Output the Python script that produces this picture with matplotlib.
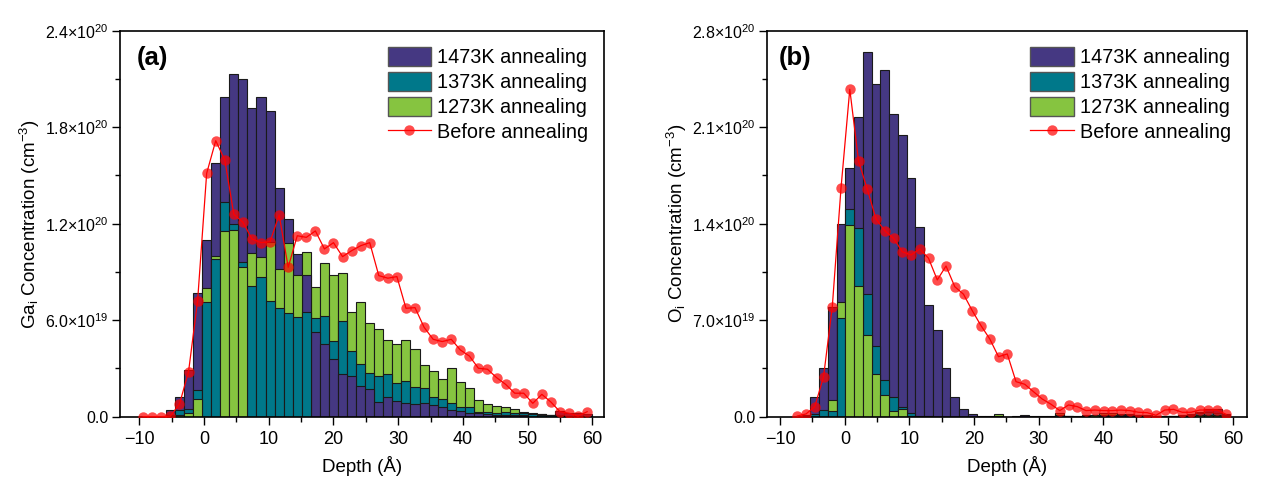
import numpy as np
import matplotlib
matplotlib.use("Agg")
import matplotlib.pyplot as plt
from matplotlib.patches import Patch
from matplotlib.lines import Line2D
from matplotlib.ticker import FuncFormatter, MultipleLocator

plt.rcParams['font.family'] = ['Liberation Sans', 'DejaVu Sans']
plt.rcParams['mathtext.fontset'] = 'custom'
plt.rcParams['mathtext.rm'] = 'Liberation Sans'
plt.rcParams['mathtext.it'] = 'Liberation Sans:italic'
plt.rcParams['mathtext.bf'] = 'Liberation Sans:bold'

# values are in units of 1e20 cm^-3
SCALE = 1e20

labels = ["1473K annealing", "1373K annealing", "1273K annealing", "Before annealing"]

# ---- panel (a): Ga interstitials ----
depth_a = np.round(-9.4 + 1.4 * np.arange(50), 2)
ga_1473 = [0, 0, 0, 0.04, 0.12, 0.29, 0.77, 1.10, 1.58, 1.99,
           2.13, 2.10, 1.92, 1.99, 1.90, 1.42, 1.23, 1.01, 0.88, 0.525,
           0.45, 0.36, 0.265, 0.25, 0.19, 0.17, 0.09, 0.12, 0.10, 0.087,
           0.077, 0.083, 0.073, 0.058, 0.041, 0.037, 0.025, 0.025, 0.016, 0.012,
           0.008, 0.008, 0.01, 0.014, 0.016, 0.012, 0.035, 0.025, 0.02, 0.016]
ga_1373 = [0, 0, 0, 0.01, 0.04, 0.045, 0.166, 0.71, 0.98, 1.337,
           1.20, 0.964, 0.81, 0.867, 0.721, 0.674, 0.647, 0.622, 0.653, 0.612,
           0.626, 0.471, 0.595, 0.41, 0.328, 0.27, 0.253, 0.265, 0.208, 0.224,
           0.187, 0.177, 0.124, 0.108, 0.087, 0.062, 0.062, 0.031, 0.027, 0.021,
           0.027, 0.021, 0.021, 0.014, 0.01, 0.008, 0.006, 0.005, 0.004, 0.004]
ga_1273 = [0, 0, 0, 0, 0.01, 0.02, 0.108, 0.802, 1.00, 1.155,
           1.16, 0.932, 1.02, 0.995, 1.088, 0.917, 1.078, 0.881, 1.026, 0.805,
           0.958, 0.881, 0.891, 0.653, 0.715, 0.585, 0.543, 0.477, 0.45, 0.477,
           0.419, 0.321, 0.286, 0.233, 0.305, 0.214, 0.18, 0.104, 0.077, 0.068,
           0.058, 0.046, 0.027, 0.021, 0.016, 0.012, 0.008, 0.006, 0.005, 0.004]
ga_before = [0, 0, 0, 0.004, 0.079, 0.28, 0.721, 1.513, 1.716, 1.596,
             1.258, 1.209, 1.105, 1.082, 1.088, 1.254, 0.929, 1.125, 1.115, 1.155,
             1.043, 1.082, 0.995, 1.032, 1.063, 1.082, 0.877, 0.861, 0.871, 0.674,
             0.678, 0.556, 0.481, 0.467, 0.481, 0.415, 0.377, 0.301, 0.295, 0.243,
             0.201, 0.146, 0.146, 0.083, 0.139, 0.091, 0.031, 0.021, 0.004, 0.031]

# ---- panel (b): O interstitials ----
depth_b = np.round(-7.35 + 1.353 * np.arange(50), 3)
o_1473 = [0, 0.01, 0.145, 0.351, 0.798, 1.398, 1.802, 2.176, 2.645, 2.413,
          2.515, 2.196, 2.043, 1.729, 1.378, 0.81, 0.629, 0.353, 0.145, 0.056,
          0.017, 0.004, 0.002, 0.002, 0.0, 0.003, 0.01, 0.005, 0.007, 0.007,
          0.01, 0.005, 0.004, 0.006, 0.01, 0.012, 0.015, 0.01, 0.01, 0.008,
          0.006, 0.005, 0.006, 0.008, 0.01, 0.02, 0.035, 0.058, 0.058, 0.02]
o_1373 = [0, 0, 0.02, 0.045, 0.04, 0.714, 1.507, 1.367, 0.888, 0.513,
          0.266, 0.145, 0.073, 0.024, 0.005, 0.003, 0, 0, 0, 0,
          0, 0, 0, 0, 0, 0, 0, 0, 0, 0,
          0.01, 0.003, 0, 0.01, 0.015, 0.015, 0.015, 0.015, 0.012, 0.01,
          0.008, 0.005, 0.005, 0.005, 0.005, 0.01, 0.03, 0.035, 0.03, 0.01]
o_1273 = [0, 0, 0, 0, 0.12, 0.834, 1.393, 0.95, 0.593, 0.308,
          0.157, 0.044, 0.054, 0.005, 0, 0, 0, 0, 0, 0,
          0, 0, 0, 0.017, 0, 0, 0, 0, 0, 0,
          0.03, 0.005, 0, 0.005, 0.01, 0.025, 0.025, 0.02, 0.02, 0.015,
          0.01, 0.005, 0.003, 0.003, 0.003, 0.003, 0.01, 0.015, 0.01, 0]
o_before = [0.005, 0.02, 0.073, 0.29, 0.798, 1.661, 2.375, 1.855, 1.65, 1.434,
            1.349, 1.294, 1.197, 1.173, 1.217, 1.149, 0.992, 1.093, 0.943, 0.888,
            0.769, 0.66, 0.564, 0.435, 0.455, 0.254, 0.235, 0.181, 0.128, 0.09,
            0.044, 0.085, 0.073, 0.044, 0.048, 0.044, 0.044, 0.048, 0.044, 0.032,
            0.029, 0.01, 0.048, 0.053, 0.032, 0.032, 0.048, 0.048, 0.048, 0.017]

colors = ['#453882', '#00788A', '#86C440']
EDGE = '#1a1a1a'


def sci_fmt(v, pos):
    if abs(v) < 1e10:
        return '0.0'
    if v < 0:
        return ''
    e = int(np.floor(np.log10(v) + 1e-9))
    m = v / 10 ** e
    return f'{m:.1f}×10$^{{{e}}}$'


def draw_panel(ax, depth, width, series, before, ymax, ystep, xlim, ylabel, tag, tag_x):
    bars = []
    for vals, c in zip(series, colors):
        bars.append(ax.bar(depth, np.array(vals) * SCALE, width=width, color=c,
                           edgecolor=EDGE, linewidth=0.8))
    # overlap: tallest bar of each bin goes to the back
    arr = np.array(series)
    for i in range(len(depth)):
        order = np.argsort(-arr[:, i], kind='stable')
        for rank, s in enumerate(order):
            bars[s][i].set_zorder(1 + 0.1 * rank)

    ax.plot(depth, np.array(before) * SCALE, '-o', color='red', lw=0.9,
            ms=7.5, mfc=(1, 0, 0, 0.7), mec='none', zorder=3)

    ax.set_xlim(*xlim)
    ax.set_ylim(0, ymax)
    ax.xaxis.set_major_locator(MultipleLocator(10))
    ax.xaxis.set_minor_locator(MultipleLocator(5))
    ax.yaxis.set_major_locator(MultipleLocator(ystep))
    ax.yaxis.set_minor_locator(MultipleLocator(ystep / 2))
    ax.yaxis.set_major_formatter(FuncFormatter(sci_fmt))
    ax.tick_params(which='both', direction='out', top=False, right=False, width=1)
    ax.tick_params(axis='x', labelsize=13, pad=4)
    ax.tick_params(axis='y', labelsize=11.5, pad=2.5)
    ax.tick_params(which='major', length=6)
    ax.tick_params(which='minor', length=3.5)
    for sp in ax.spines.values():
        sp.set_linewidth(1.2)

    ax.set_xlabel('Depth (Å)', fontsize=13.5, labelpad=6)
    ax.set_ylabel(ylabel, fontsize=13.5, labelpad=2)
    ax.text(tag_x, 0.93, tag, transform=ax.transAxes, fontsize=18.5,
            fontweight='bold', va='center', ha='left')

    handles = [Patch(facecolor=c, edgecolor='#555555', linewidth=1) for c in colors]
    handles.append(Line2D([], [], color='red', lw=0.9, marker='o', ms=7.5,
                          mfc=(1, 0, 0, 0.7), mec='none'))
    ax.legend(handles, labels, loc='upper right', frameon=False, fontsize=14.3,
              handlelength=2.2, handleheight=1.1, handletextpad=0.3,
              labelspacing=0.24, borderaxespad=0.4)


fig = plt.figure(figsize=(12.83, 4.87), dpi=100)
ax_a = fig.add_axes([0.0935, 0.1444, 0.3775, 0.7926])
ax_b = fig.add_axes([0.598, 0.1444, 0.3737, 0.7926])

draw_panel(ax_a, depth_a, 1.4, [ga_1473, ga_1373, ga_1273], ga_before,
           2.4e20, 0.6e20, (-13, 61.85),
           'Ga$_{\\mathrm{i}}$ Concentration (cm$^{-3}$)', '(a)', 0.035)
draw_panel(ax_b, depth_b, 1.353, [o_1473, o_1373, o_1273], o_before,
           2.8e20, 0.7e20, (-12, 62.15),
           'O$_{\\mathrm{i}}$ Concentration (cm$^{-3}$)', '(b)', 0.023)

fig.savefig('out.png', dpi=100)
